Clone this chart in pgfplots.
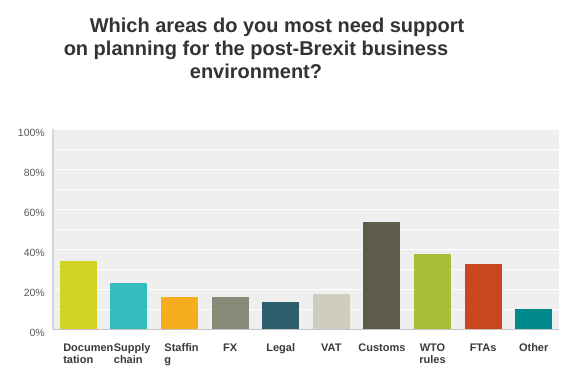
\documentclass[border=0pt]{standalone}
\usepackage{pgfplots}
\pgfplotsset{compat=1.18}
\usepackage{fontspec}
\setmainfont{Liberation Sans}
\definecolor{bgc}{HTML}{EFEFEF}
\definecolor{xax}{HTML}{C4C4C4}
\definecolor{yax}{HTML}{D6D6D6}
\definecolor{titlec}{HTML}{333333}
\definecolor{labc}{HTML}{3A3A3A}
\definecolor{ylabc}{HTML}{595959}
\definecolor{cDoc}{HTML}{CFD427}
\definecolor{cSup}{HTML}{33BDBF}
\definecolor{cSta}{HTML}{F6AE1F}
\definecolor{cFX}{HTML}{8A8A78}
\definecolor{cLeg}{HTML}{2D5E6B}
\definecolor{cVAT}{HTML}{CFCDBE}
\definecolor{cCus}{HTML}{5D5B4A}
\definecolor{cWTO}{HTML}{AABD3A}
\definecolor{cFTA}{HTML}{C9461E}
\definecolor{cOth}{HTML}{00898A}
\begin{document}
\begin{tikzpicture}[x=1pt,y=1pt]
\useasboundingbox (-53,-47) rectangle (521,329);
\begin{axis}[
  at={(0,0)}, anchor=south west, scale only axis,
  width=506pt, height=200pt,
  xmin=-0.5, xmax=9.5, ymin=0, ymax=100,
  ybar, bar width=37pt, bar shift=0pt,
  axis background/.style={fill=bgc},
  axis x line*=bottom, axis y line*=left,
  x axis line style={draw=xax, line width=1pt},
  y axis line style={draw=yax, line width=2pt},
  xtick={0,...,9},
  xticklabels={
    {\makebox[30pt][l]{\begin{tabular}[t]{@{}l@{}}Documen\\tation\end{tabular}}},
    {\makebox[30pt][l]{\begin{tabular}[t]{@{}l@{}}Supply\\chain\end{tabular}}},
    {\makebox[30pt][l]{\begin{tabular}[t]{@{}l@{}}Staffin\\g\end{tabular}}},
    FX, Legal, VAT, Customs,
    {\begin{tabular}[t]{@{}c@{}}WTO\\rules\end{tabular}},
    FTAs, Other},
  xticklabel style={anchor=base, yshift=-22pt, inner sep=0pt, text=labc,
    font=\bfseries\fontsize{11}{12.5}\selectfont},
  ytick={0,20,...,100}, minor ytick={10,30,...,90},
  ymajorgrids, yminorgrids,
  major grid style={draw=white, line width=1pt},
  minor grid style={draw=white, line width=1pt},
  major tick length=0pt, minor tick length=0pt,
  /pgf/number format/assume math mode=true,
  yticklabel={\pgfmathprintnumber{\tick}\%},
  yticklabel style={anchor=east, inner sep=0pt, xshift=-8pt, yshift=-4pt, text=ylabc,
    font=\fontsize{10.5}{12.5}\selectfont},
]
\addplot[fill=cDoc, draw=none] coordinates {(0,34.2)};
\addplot[fill=cSup, draw=none] coordinates {(1,22.8)};
\addplot[fill=cSta, draw=none] coordinates {(2,16.2)};
\addplot[fill=cFX, draw=none] coordinates {(3,16.2)};
\addplot[fill=cLeg, draw=none] coordinates {(4,13.7)};
\addplot[fill=cVAT, draw=none] coordinates {(5,17.7)};
\addplot[fill=cCus, draw=none] coordinates {(6,53.7)};
\addplot[fill=cWTO, draw=none] coordinates {(7,37.7)};
\addplot[fill=cFTA, draw=none] coordinates {(8,32.7)};
\addplot[fill=cOth, draw=none] coordinates {(9,10.2)};
\end{axis}
\begin{scope}[every node/.style={anchor=base, inner sep=0pt, text=titlec,
    font=\bfseries\fontsize{20}{23}\selectfont}]
\node at (224,297) {Which areas do you most need support};
\node at (203,274) {on planning for the post-Brexit business};
\node at (203,251) {environment?};
\end{scope}
\end{tikzpicture}
\end{document}
